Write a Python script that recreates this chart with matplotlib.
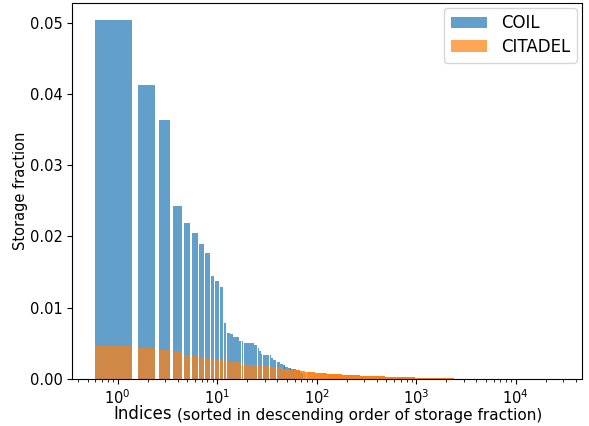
import numpy as np
import matplotlib
matplotlib.use('Agg')
import matplotlib.pyplot as plt


# storage fraction per index, sorted descending.
# first bars read one by one, the rest as runs: (last index of run, value)
coil_head = [0.0503, 0.0412, 0.0364, 0.0243, 0.0219, 0.0205, 0.0190,
             0.0177, 0.0145, 0.0138, 0.0129, 0.0079, 0.0065, 0.0063]
coil_run_end = [16, 18, 21, 23, 25, 26, 27, 28, 34, 36, 39, 42, 45, 48,
                51, 55, 61, 67, 72, 26860]
coil_run_val = [0.0059, 0.0053, 0.0051, 0.0050, 0.0048, 0.0044, 0.0039,
                0.0035, 0.0034, 0.0030, 0.0027, 0.0024, 0.0021, 0.0019,
                0.0017, 0.0015, 0.0014, 0.0012, 0.0009, 0.0]

citadel_head = [0.00464, 0.00436, 0.00408, 0.00398, 0.00342, 0.00323,
                0.00295, 0.00291, 0.0028, 0.0027, 0.0027, 0.0026]
citadel_run_end = [16, 19, 24, 33, 44, 53, 67, 75, 95, 125, 177, 270,
                   485, 960, 2380]
citadel_run_val = [0.00243, 0.00225, 0.00199, 0.00183, 0.00169, 0.0014,
                   0.00122, 0.00112, 0.00094, 0.00084, 0.00075, 0.0006,
                   0.00046, 0.00032, 0.00018]

series_names = ['COIL', 'CITADEL']


def expand(head, ends, vals):
    counts = np.diff(np.concatenate([[len(head)], ends]))
    return np.concatenate([head, np.repeat(vals, counts)])


def min_pixel_width(ax, bars, minpx=1.0):
    # bars far out on the log axis are thinner than a pixel; give them
    # one pixel so they pile up like in the original raster
    trans = ax.transData
    inv = trans.inverted()
    for r in bars.patches:
        if r.get_height() <= 0:
            continue
        x0 = r.get_x()
        x1 = x0 + r.get_width()
        p0 = trans.transform((x0, 0))[0]
        p1 = trans.transform((x1, 0))[0]
        if p1 - p0 >= minpx:
            continue
        pc = 0.5 * (p0 + p1)
        n0 = inv.transform((pc - minpx / 2, 0))[0]
        n1 = inv.transform((pc + minpx / 2, 0))[0]
        r.set_x(n0)
        r.set_width(n1 - n0)


coil = expand(coil_head, coil_run_end, coil_run_val)
citadel = expand(citadel_head, citadel_run_end, citadel_run_val)

fs = 10.5

fig = plt.figure(figsize=(5.89, 4.26), dpi=100)
ax = fig.add_axes([0.1228, 0.1103, 0.8648, 0.8838])

b_coil = ax.bar(np.arange(1, len(coil) + 1), coil, color='C0', alpha=0.7,
                label=series_names[0])
b_cit = ax.bar(np.arange(1, len(citadel) + 1), citadel, color='C1',
               alpha=0.7, label=series_names[1])

ax.set_xscale('log')
ax.autoscale_view()
ax.set_xlim(ax.get_xlim())
min_pixel_width(ax, b_coil)
min_pixel_width(ax, b_cit)

ax.set_ylabel('Storage fraction', fontsize=fs, labelpad=1)
ax.tick_params(labelsize=fs)
ax.legend(fontsize=12, borderaxespad=0.3, labelspacing=0.35,
          handlelength=2.2)

# x label: "Indices" a bit larger than the note after it
lab = ax.set_xlabel('Indices', fontsize=12, labelpad=-2)
lab.set_x(0.08)
lab.set_horizontalalignment('left')
ax.annotate('(sorted in descending order of storage fraction)',
            xy=(1, 0), xycoords=lab, xytext=(4, 0),
            textcoords='offset points', ha='left', va='bottom',
            fontsize=11)

fig.savefig('out.png', dpi=100)
